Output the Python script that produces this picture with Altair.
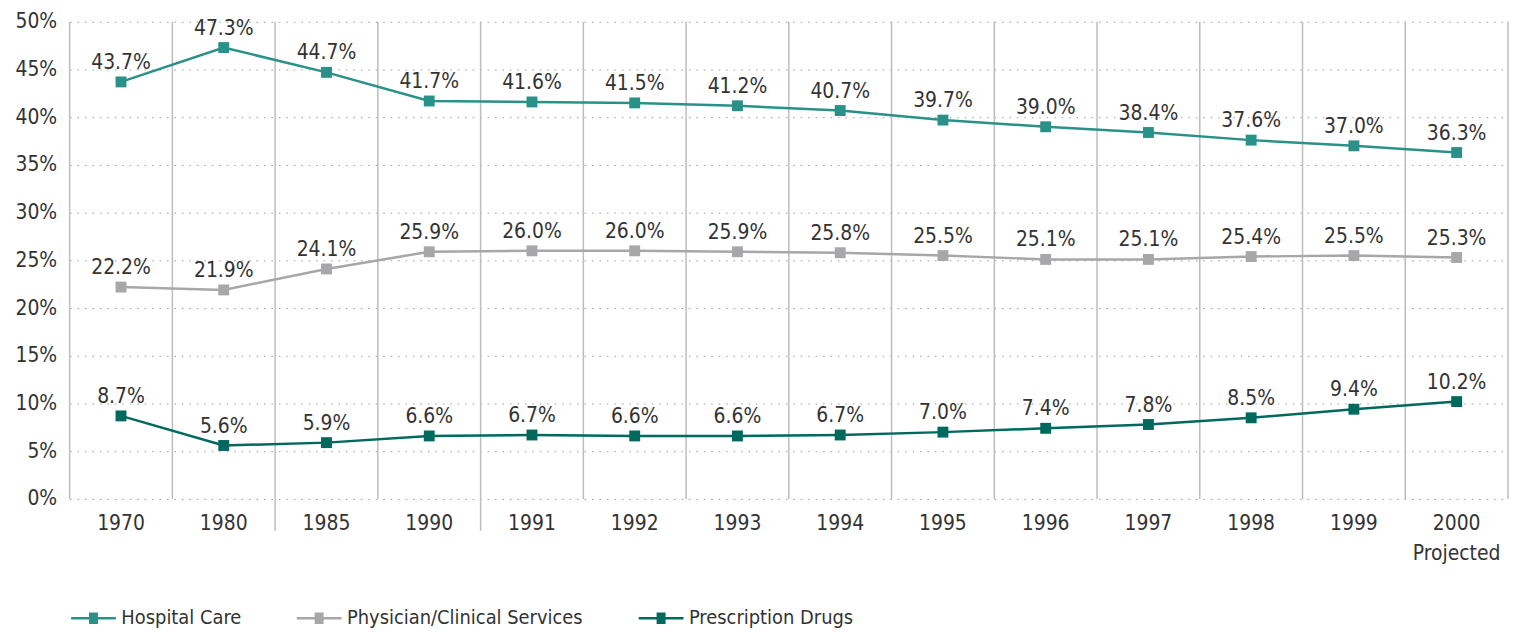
import altair as alt
import pandas as pd

years = ["1970", "1980", "1985", "1990", "1991", "1992", "1993", "1994",
         "1995", "1996", "1997", "1998", "1999", "2000"]
hospital = [43.7, 47.3, 44.7, 41.7, 41.6, 41.5, 41.2, 40.7, 39.7, 39.0, 38.4, 37.6, 37.0, 36.3]
physician = [22.2, 21.9, 24.1, 25.9, 26.0, 26.0, 25.9, 25.8, 25.5, 25.1, 25.1, 25.4, 25.5, 25.3]
drugs = [8.7, 5.6, 5.9, 6.6, 6.7, 6.6, 6.6, 6.7, 7.0, 7.4, 7.8, 8.5, 9.4, 10.2]
series = ["Hospital Care", "Physician/Clinical Services", "Prescription Drugs"]
colors = ["#2a9188", "#a7a7a9", "#00695d"]
separators = ["1985", "1991"]

rows = []
for name, vals in zip(series, [hospital, physician, drugs]):
    for y, v in zip(years, vals):
        rows.append({"year": y, "series": name, "value": v})
df = pd.DataFrame(rows)
sep_df = pd.DataFrame({"year": separators})
grid_df = pd.DataFrame({"year": years})
end_df = pd.DataFrame({"year": years[-1:]})

FONT = "Liberation Sans Narrow, DejaVu Sans Condensed, sans-serif"
TXT = "#333333"
GRID = "#bdbdbd"

xscale = alt.Scale(type="band", domain=years, paddingInner=0, paddingOuter=0)
x = alt.X("year:N", scale=xscale, bandPosition=0.5, title=None,
          axis=alt.Axis(grid=False, ticks=False, domain=False, labelAngle=0, labelFontSize=21,
                        labelAlign="center", labelBaseline="middle",
                        labelPadding=25, labelColor=TXT, labelFont=FONT, labelLineHeight=30,
                        labelExpr="datum.value == '2000' ? ['2000', 'Projected'] : datum.value"))
y = alt.Y("value:Q", title=None,
          scale=alt.Scale(domain=[0, 50], nice=False),
          axis=alt.Axis(values=list(range(0, 55, 5)), labelExpr="datum.value + '%'",
                        grid=True, gridDash=[1.5, 6], gridColor="#9a9a9a", gridWidth=1,
                        ticks=False, domain=False, labelFontSize=21, labelPadding=13,
                        labelColor=TXT, labelFont=FONT))

legend_path = ("M-1,0H1"
               "M-0.2,-0.2H0.2M-0.2,-0.133H0.2M-0.2,-0.067H0.2M-0.2,0H0.2"
               "M-0.2,0.067H0.2M-0.2,0.133H0.2M-0.2,0.2H0.2")

color = alt.Color("series:N", scale=alt.Scale(domain=series, range=colors),
                  legend=alt.Legend(title=None, orient="none", legendX=0, legendY=576,
                                    direction="horizontal", symbolType=legend_path,
                                    symbolSize=2025, symbolStrokeWidth=2.5,
                                    labelFontSize=20, labelFont=FONT, labelColor=TXT,
                                    labelLimit=400, labelOffset=4, columnPadding=50))

base = alt.Chart(df)
vgrid = alt.Chart(grid_df).mark_rule(color=GRID, strokeWidth=1.5).encode(
    x=alt.X("year:N", scale=xscale, bandPosition=0), y=alt.value(0), y2=alt.value(480))
vend = alt.Chart(end_df).mark_rule(color=GRID, strokeWidth=1.5).encode(
    x=alt.X("year:N", scale=xscale, bandPosition=1), y=alt.value(0), y2=alt.value(480))
seps = alt.Chart(sep_df).mark_rule(color=GRID, strokeWidth=1.5).encode(
    x=alt.X("year:N", scale=xscale, bandPosition=0), y=alt.value(480), y2=alt.value(512))
lines = base.mark_line(strokeWidth=2.5).encode(x=x, y=y, color=color)
points = base.mark_point(shape="square", filled=True, size=120, opacity=1).encode(
    x=x, y=y, color=alt.Color("series:N", scale=alt.Scale(domain=series, range=colors), legend=None))
labels = base.transform_calculate(
    lab="format(datum.value, '.1f') + '%'"
).mark_text(dy=-19, fontSize=21, font=FONT, color=TXT, baseline="middle").encode(
    x=x, y=y, text="lab:N")

chart = alt.layer(vgrid, vend, seps, lines, points, labels).properties(
    width=1447, height=480,
    autosize=alt.AutoSizeParams(type="none"),
    padding={"left": 62, "top": 12, "right": 2, "bottom": 133},
).configure_view(stroke=None)

chart.save("out.html", embed_options={"renderer": "svg", "actions": False})
